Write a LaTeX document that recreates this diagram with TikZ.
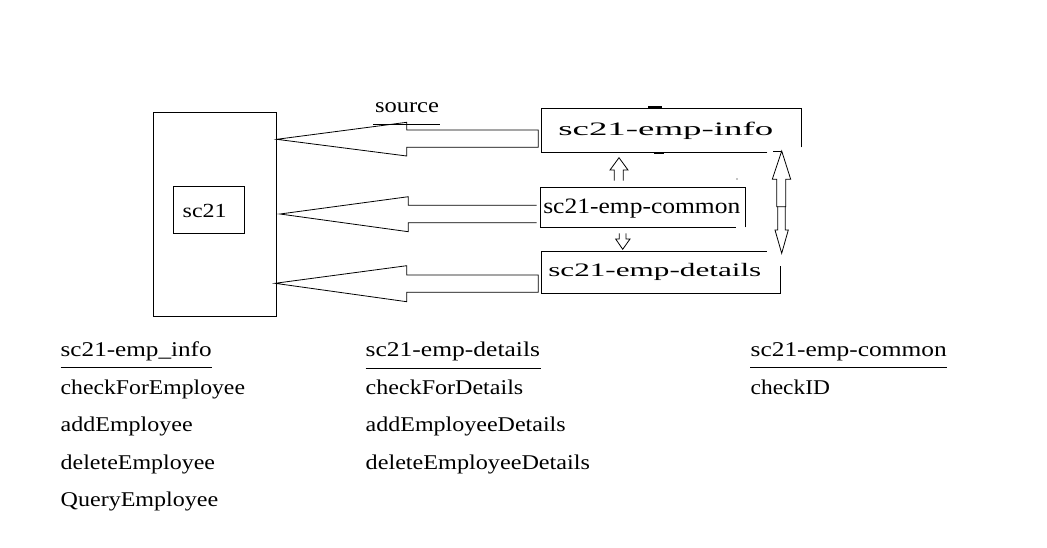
\documentclass[tikz,border=0pt]{standalone}
\usepackage{fontspec}
\setmainfont{Liberation Serif}
\usepackage{graphicx}
\newcommand{\stretchtxt}[3]{\resizebox{#1pt}{\height}{\fontsize{#2}{#2}\selectfont #3}}
\tikzset{
  ln/.style={line width=0.9pt, line cap=rect},
  blockarrow/.style={line width=0.8pt, line join=miter},
  txt/.style={anchor=base west, inner sep=0pt, outer sep=0pt},
}
\begin{document}
\begin{tikzpicture}[x=1pt,y=-1pt]
\useasboundingbox (0,0) rectangle (1047,547);
\fill[white] (0,0) rectangle (1047,547);

% ---- sc21 container ----
\draw[ln] (153,112) rectangle (276,316);
\draw[ln] (173,186) rectangle (244,233);
\node[txt] (sc21) at (182.7,217.3) {\stretchtxt{44}{20}{sc21}};

% ---- source label ----
\node[txt] (source) at (375,112.7) {\stretchtxt{64}{21}{source}};
\draw[line width=0.8pt] (373,124) -- (440,124);

% ---- sc21-emp-info box ----
\draw[ln] (801,147) -- (801,108) -- (541,108) -- (541,152) -- (767,152);
\draw[line width=2pt] (648,107) -- (662,107);
\draw[line width=2pt] (654,153) -- (664,153);
\node[txt] (info) at (558.3,135) {\stretchtxt{215}{19}{sc21-emp-info}};

% ---- sc21-emp-common box ----
\draw[ln] (745.7,227) -- (745.7,187.7) -- (540.7,187.7) -- (540.7,227.7) -- (735.7,227.7);
\node[txt] (common) at (543.3,213.3) {\stretchtxt{197}{22}{sc21-emp-common}};
\fill (737,179) circle (0.7);

% ---- sc21-emp-details box ----
\draw[ln] (766.7,251.7) -- (541.7,251.7) -- (541.7,293.3) -- (780,293.3) -- (780,266.7);
\node[txt] (details) at (548.3,276.7) {\stretchtxt{213}{19}{sc21-emp-details}};

% ---- big left arrows ----
\draw[blockarrow] (276.7,139.3) -- (406.7,122.3) -- (406.7,130) -- (538.3,130) -- (538.3,147.3) -- (406.7,147.3) -- (406.7,156) -- cycle;
\draw[blockarrow] (536.7,205.3) -- (408.3,205.3) -- (408.3,196.7) -- (280,214) -- (408.3,231.7) -- (408.3,222.7) -- (536.7,222.7);
\draw[blockarrow] (275,283.3) -- (406.7,265.7) -- (406.7,275) -- (538.3,275) -- (538.3,292.3) -- (406.7,292.3) -- (406.7,301.7) -- cycle;

% ---- small arrows ----
\draw[blockarrow] (614.3,180.7) -- (614.3,170) -- (610,170) -- (619,157.7) -- (628,170) -- (623.3,170) -- (623.3,180.7);
\draw[blockarrow] (619.3,233.3) -- (619.3,239) -- (615.7,239) -- (622.7,249.3) -- (630,239) -- (626,239) -- (626,233.3);

% ---- double arrow ----
\draw[blockarrow] (776.7,206.7) -- (776.7,179.3) -- (772.3,179.3) -- (781.7,151) -- (790.7,179.3) -- (785.7,179.3) -- (785.7,206.7) -- cycle;
\draw[blockarrow] (777.7,206.7) -- (777.7,230) -- (775,230) -- (781.7,253.3) -- (788.3,230) -- (785.3,230) -- (785.3,206.7);
\draw[line width=0.8pt] (773,151) -- (782,151);

% ---- method lists ----
\node[txt] (h1) at (60.7,356) {\stretchtxt{151}{21}{sc21-emp\_info}};
\draw[line width=0.8pt] (60.7,367.5) -- (211.7,367.5);
\node[txt] (m11) at (60.7,394) {\stretchtxt{184.3}{21}{checkForEmployee}};
\node[txt] (m12) at (60.7,431.7) {\stretchtxt{132}{21}{addEmployee}};
\node[txt] (m13) at (60.7,469.3) {\stretchtxt{154.3}{21}{deleteEmployee}};
\node[txt] (m14) at (60.7,506.7) {\stretchtxt{157.6}{21}{QueryEmployee}};

\node[txt] (h2) at (365.7,356) {\stretchtxt{174.3}{21}{sc21-emp-details}};
\draw[line width=0.8pt] (365.7,368) -- (540.7,368);
\node[txt] (m21) at (365.7,394) {\stretchtxt{157.6}{21}{checkForDetails}};
\node[txt] (m22) at (365.7,431.7) {\stretchtxt{200}{21}{addEmployeeDetails}};
\node[txt] (m23) at (365.7,469.3) {\stretchtxt{224.3}{21}{deleteEmployeeDetails}};

\node[txt] (h3) at (750.7,356) {\stretchtxt{196}{21}{sc21-emp-common}};
\draw[line width=0.8pt] (750,367.5) -- (946.7,367.5);
\node[txt] (m31) at (750.7,394) {\stretchtxt{79.3}{21}{checkID}};
\end{tikzpicture}
\end{document}
